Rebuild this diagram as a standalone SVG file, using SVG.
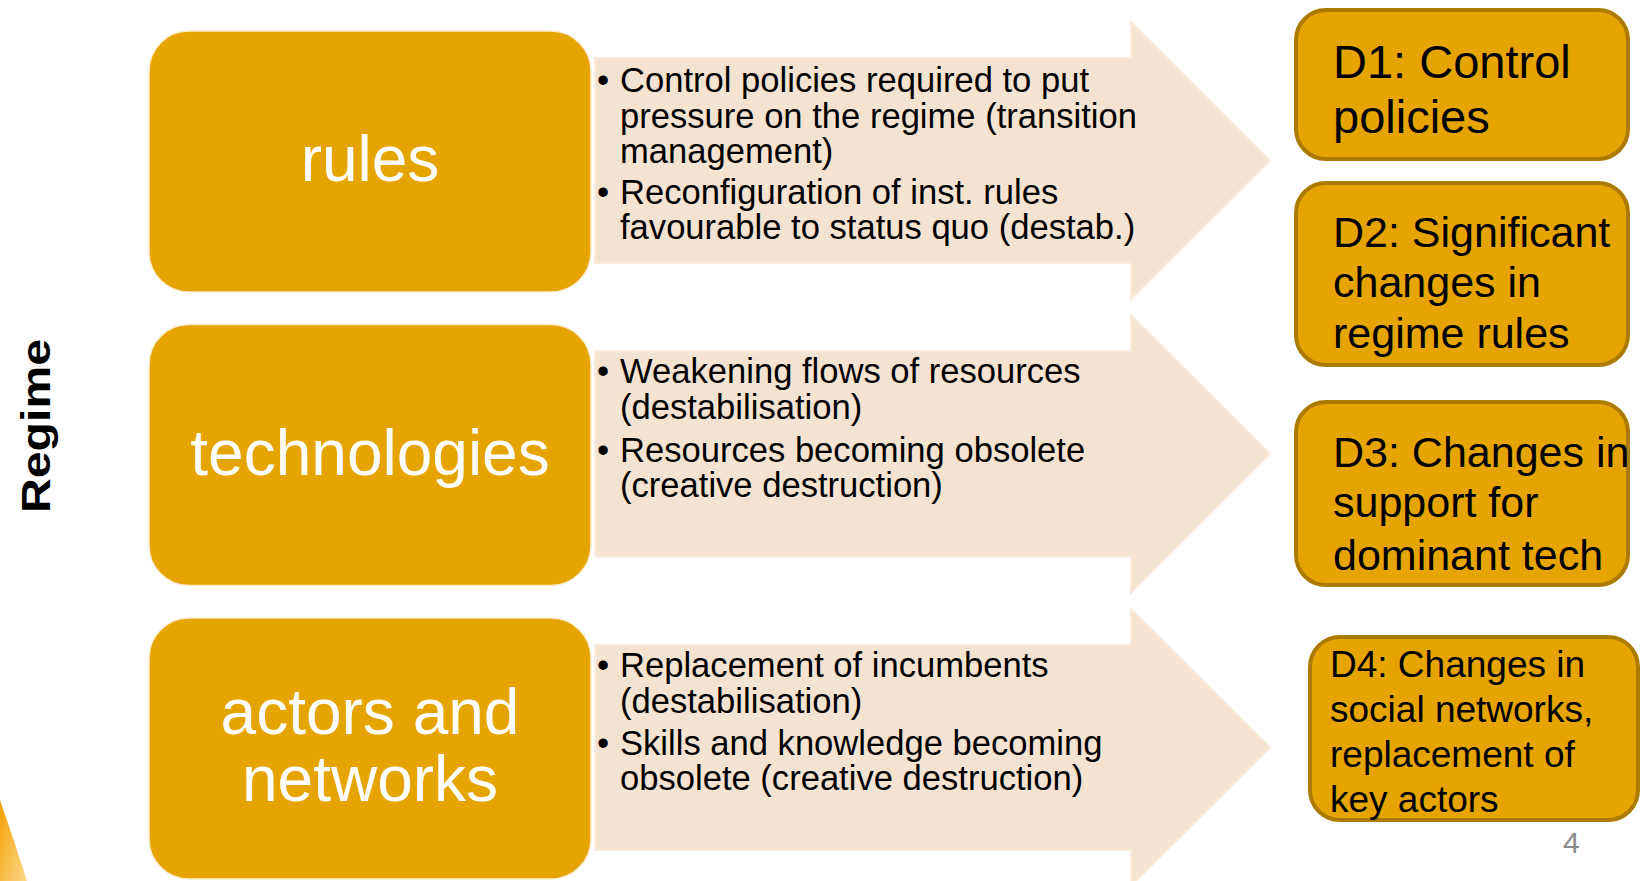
<svg xmlns="http://www.w3.org/2000/svg" width="1642" height="881" viewBox="0 0 1642 881">
  <defs>
    <linearGradient id="swoosh" x1="0" y1="0" x2="1" y2="1">
      <stop offset="0" stop-color="#F5A000"/>
      <stop offset="1" stop-color="#FBD88C"/>
    </linearGradient>
    <style>
      .regime { fill: #E6A400; stroke: #FBEBD0; stroke-width: 1.5; }
      .regime-label { font-family: "Liberation Sans", Arial, sans-serif; font-size: 64px; fill: #FFFFFF; text-anchor: middle; }
      .arrow { fill: #F5E3D1; stroke: #F8EADC; stroke-width: 2; }
      .bullets { font-family: "Liberation Sans", Arial, sans-serif; font-size: 34.6px; fill: #000000; }
      .dim { fill: #E6A400; stroke: #AD7A00; stroke-width: 4; }
      .dim-label { font-family: "Liberation Sans", Arial, sans-serif; fill: #000000; }
      .side { font-family: "Liberation Sans", Arial, sans-serif; font-size: 40px; font-weight: bold; fill: #000000; text-anchor: middle; }
      .page { font-family: "Liberation Sans", Arial, sans-serif; font-size: 30px; fill: #8A8A8A; }
    </style>
  </defs>

  <rect width="1642" height="881" fill="#FFFFFF"/>

  <!-- corner accent -->
  <path d="M0,800 Q14,840 27,881 L0,881 Z" fill="url(#swoosh)"/>

  <!-- vertical side label -->
  <text class="side" transform="translate(50,426) rotate(-90)" textLength="174" lengthAdjust="spacingAndGlyphs">Regime</text>

  <!-- arrows carrying the mechanisms -->
  <g id="connectors">
    <polygon class="arrow" points="595,58 1131,58 1131,22 1270,160.5 1131,299 1131,263 595,263"/>
    <polygon class="arrow" points="595,351.5 1131,351.5 1131,315.5 1270,454 1131,592.5 1131,556.5 595,556.5"/>
    <polygon class="arrow" points="595,645 1131,645 1131,609 1270,747.5 1131,886 1131,850 595,850"/>
  </g>

  <!-- mechanism texts -->
  <g id="mech-rules" class="bullets">
    <text x="597" y="92">•</text>
    <text x="620" y="92">Control policies required to put</text>
    <text x="620" y="128">pressure on the regime (transition</text>
    <text x="620" y="163">management)</text>
    <text x="597" y="204">•</text>
    <text x="620" y="204">Reconfiguration of inst. rules</text>
    <text x="620" y="239">favourable to status quo (destab.)</text>
  </g>
  <g id="mech-tech" class="bullets">
    <text x="597" y="383">•</text>
    <text x="620" y="383">Weakening flows of resources</text>
    <text x="620" y="419">(destabilisation)</text>
    <text x="597" y="462">•</text>
    <text x="620" y="462">Resources becoming obsolete</text>
    <text x="620" y="497">(creative destruction)</text>
  </g>
  <g id="mech-actors" class="bullets">
    <text x="597" y="677">•</text>
    <text x="620" y="677">Replacement of incumbents</text>
    <text x="620" y="713">(destabilisation)</text>
    <text x="597" y="755">•</text>
    <text x="620" y="755">Skills and knowledge becoming</text>
    <text x="620" y="790">obsolete (creative destruction)</text>
  </g>

  <!-- regime elements -->
  <g id="rules">
    <rect class="regime" x="149" y="31" width="442" height="261" rx="40"/>
    <text class="regime-label" x="370" y="181">rules</text>
  </g>
  <g id="technologies">
    <rect class="regime" x="149" y="324.5" width="442" height="261" rx="40"/>
    <text class="regime-label" x="370" y="475">technologies</text>
  </g>
  <g id="actors">
    <rect class="regime" x="149" y="618" width="442" height="261" rx="40"/>
    <text class="regime-label" x="370" y="734">actors and</text>
    <text class="regime-label" x="370" y="801">networks</text>
  </g>

  <!-- destabilisation dimensions -->
  <g id="d1">
    <rect class="dim" x="1296" y="10" width="332" height="149" rx="30"/>
    <text class="dim-label" font-size="47" x="1333" y="78">D1: Control</text>
    <text class="dim-label" font-size="47" x="1333" y="133">policies</text>
  </g>
  <g id="d2">
    <rect class="dim" x="1296" y="183" width="332" height="182" rx="30"/>
    <text class="dim-label" font-size="43" x="1333" y="247">D2: Significant</text>
    <text class="dim-label" font-size="43" x="1333" y="297">changes in</text>
    <text class="dim-label" font-size="43" x="1333" y="348">regime rules</text>
  </g>
  <g id="d3">
    <rect class="dim" x="1296" y="402" width="332" height="183" rx="30"/>
    <text class="dim-label" font-size="43" x="1333" y="467">D3: Changes in</text>
    <text class="dim-label" font-size="43" x="1333" y="517">support for</text>
    <text class="dim-label" font-size="43" x="1333" y="570">dominant tech</text>
  </g>
  <g id="d4">
    <rect class="dim" x="1310" y="637" width="328" height="183" rx="30"/>
    <text class="dim-label" font-size="37" x="1330" y="677">D4: Changes in</text>
    <text class="dim-label" font-size="37" x="1330" y="722">social networks,</text>
    <text class="dim-label" font-size="37" x="1330" y="767">replacement of</text>
    <text class="dim-label" font-size="37" x="1330" y="812">key actors</text>
  </g>

  <text class="page" x="1563" y="853">4</text>
</svg>
